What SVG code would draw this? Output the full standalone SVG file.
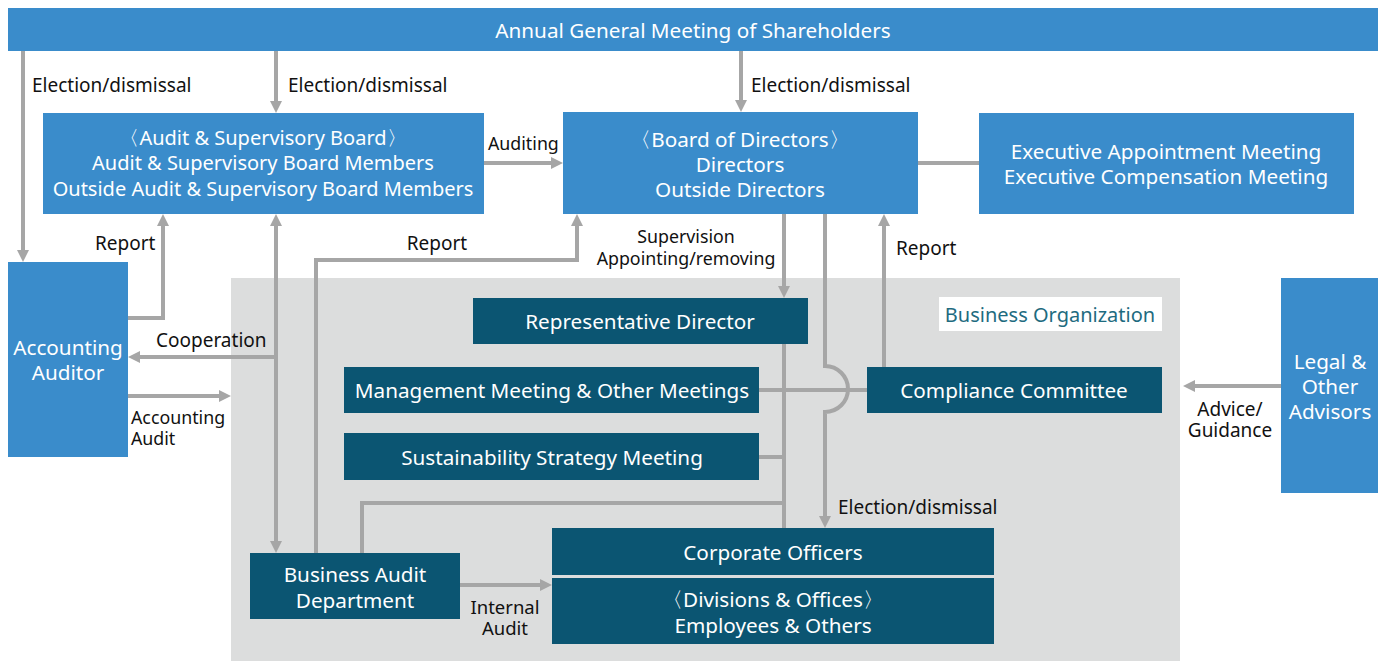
<svg xmlns="http://www.w3.org/2000/svg" width="1386" height="661" viewBox="0 0 1386 661">
<defs>
<style>
.blue{fill:#3a8ccb}
.dark{fill:#0b5572}
.bt{fill:#ffffff;font-family:"Noto Sans","DejaVu Sans",sans-serif;font-size:20.7px;text-anchor:middle;dominant-baseline:central}
.bt20{font-size:20px}
.lb{fill:#111111;font-family:"Noto Sans","DejaVu Sans",sans-serif;font-size:19px;dominant-baseline:central}
.sm{font-size:17.8px}
.mid{text-anchor:middle}
.ln{fill:none;stroke:#a6a6a6;stroke-width:4}
.ar{marker-end:url(#ah)}
.ar2{marker-start:url(#ah);marker-end:url(#ah)}
</style>
<marker id="ah" markerUnits="userSpaceOnUse" markerWidth="12" markerHeight="12" viewBox="0 0 12 12" refX="4" refY="6" orient="auto-start-reverse">
<path d="M0,0 L12,6 L0,12 z" fill="#a6a6a6"/>
</marker>
</defs>
<rect width="1386" height="661" fill="#ffffff"/>
<rect id="business-organization-area" x="231" y="278" width="949" height="383" fill="#dcdddd"/>
<g id="business-organization-label">
<rect x="939" y="297" width="223" height="34" fill="#ffffff"/>
<text x="1050" y="314" style="fill:#1e6b80;font-family:'Noto Sans','DejaVu Sans',sans-serif;font-size:20px;text-anchor:middle;dominant-baseline:central">Business Organization</text>
</g>

<g id="connectors">
<path class="ln ar" d="M23,51 V254"/>
<path class="ln ar" d="M276,51 V105"/>
<path class="ln ar" d="M741,51 V104"/>
<path class="ln ar" d="M484,163 H555"/>
<path class="ln" d="M918,163 H979"/>
<path class="ln ar" d="M128,318 H163 V222"/>
<path class="ln ar2" d="M276,222 V545"/>
<path class="ln ar" d="M276,357 H136"/>
<path class="ln ar" d="M128,396 H223"/>
<path class="ln ar" d="M316,553 V260 H577 V222"/>
<path class="ln ar" d="M784,214 V290"/>
<path class="ln" d="M784,344 V528"/>
<path class="ln" d="M759,390 H867"/>
<path class="ln" d="M759,457 H784"/>
<path class="ln" d="M784,503 H362 V553"/>
<path class="ln ar" d="M825,214 V366 A23,23 0 0 1 825,412 V520"/>
<path class="ln ar" d="M884,367 V222"/>
<path class="ln ar" d="M1281,386 H1191"/>
<path class="ln ar" d="M460,585 H544"/>
</g>

<g id="connector-labels">
<text class="lb" x="32" y="85">Election/dismissal</text>
<text class="lb" x="288" y="85">Election/dismissal</text>
<text class="lb" x="751" y="85">Election/dismissal</text>
<text class="lb sm" x="488" y="143">Auditing</text>
<text class="lb" x="95" y="243">Report</text>
<text class="lb" x="156" y="340">Cooperation</text>
<text class="lb sm" x="131" y="417">Accounting</text>
<text class="lb sm" x="131" y="438">Audit</text>
<text class="lb mid" x="437" y="243">Report</text>
<text class="lb mid sm" x="686" y="236">Supervision</text>
<text class="lb mid sm" x="686" y="258">Appointing/removing</text>
<text class="lb" x="896" y="248">Report</text>
<text class="lb" x="838" y="507">Election/dismissal</text>
<text class="lb mid" x="1230" y="409">Advice/</text>
<text class="lb mid" x="1230" y="430">Guidance</text>
<text class="lb mid" x="505" y="606" style="font-size:18.5px">Internal</text>
<text class="lb mid" x="505" y="627" style="font-size:18.5px">Audit</text>
</g>

<g id="agm">
<rect class="blue" x="8" y="8" width="1370" height="43"/>
<text class="bt" x="693" y="30">Annual General Meeting of Shareholders</text>
</g>
<g id="audit-board">
<rect class="blue" x="43" y="113" width="441" height="101"/>
<text class="bt bt20" x="263" y="137">〈Audit &amp; Supervisory Board〉</text>
<text class="bt bt20" x="263" y="162">Audit &amp; Supervisory Board Members</text>
<text class="bt bt20" x="263" y="188">Outside Audit &amp; Supervisory Board Members</text>
</g>
<g id="board-of-directors">
<rect class="blue" x="563" y="112" width="355" height="102"/>
<text class="bt" x="740" y="139">〈Board of Directors〉</text>
<text class="bt" x="740" y="164">Directors</text>
<text class="bt" x="740" y="189">Outside Directors</text>
</g>
<g id="executive-meetings">
<rect class="blue" x="979" y="113" width="375" height="101"/>
<text class="bt" x="1166" y="151">Executive Appointment Meeting</text>
<text class="bt" x="1166" y="176">Executive Compensation Meeting</text>
</g>
<g id="accounting-auditor">
<rect class="blue" x="8" y="262" width="120" height="195"/>
<text class="bt" x="68" y="347">Accounting</text>
<text class="bt" x="68" y="372">Auditor</text>
</g>
<g id="legal-advisors">
<rect class="blue" x="1281" y="278" width="97" height="215"/>
<text class="bt" x="1330" y="361">Legal &amp;</text>
<text class="bt" x="1330" y="386">Other</text>
<text class="bt" x="1330" y="411">Advisors</text>
</g>
<g id="representative-director">
<rect class="dark" x="473" y="298" width="335" height="46"/>
<text class="bt" x="640" y="321">Representative Director</text>
</g>
<g id="management-meeting">
<rect class="dark" x="344" y="367" width="415" height="46"/>
<text class="bt" x="552" y="390">Management Meeting &amp; Other Meetings</text>
</g>
<g id="sustainability-meeting">
<rect class="dark" x="344" y="433" width="415" height="47"/>
<text class="bt" x="552" y="457">Sustainability Strategy Meeting</text>
</g>
<g id="compliance-committee">
<rect class="dark" x="867" y="367" width="295" height="46"/>
<text class="bt" x="1014" y="390">Compliance Committee</text>
</g>
<g id="corporate-officers">
<rect class="dark" x="552" y="528" width="442" height="47"/>
<text class="bt" x="773" y="552">Corporate Officers</text>
</g>
<g id="divisions-offices">
<rect class="dark" x="552" y="578" width="442" height="66"/>
<text class="bt" x="773" y="599">〈Divisions &amp; Offices〉</text>
<text class="bt" x="773" y="625">Employees &amp; Others</text>
</g>
<g id="business-audit-department">
<rect class="dark" x="250" y="553" width="210" height="66"/>
<text class="bt" x="355" y="574">Business Audit</text>
<text class="bt" x="355" y="600">Department</text>
</g>
</svg>
